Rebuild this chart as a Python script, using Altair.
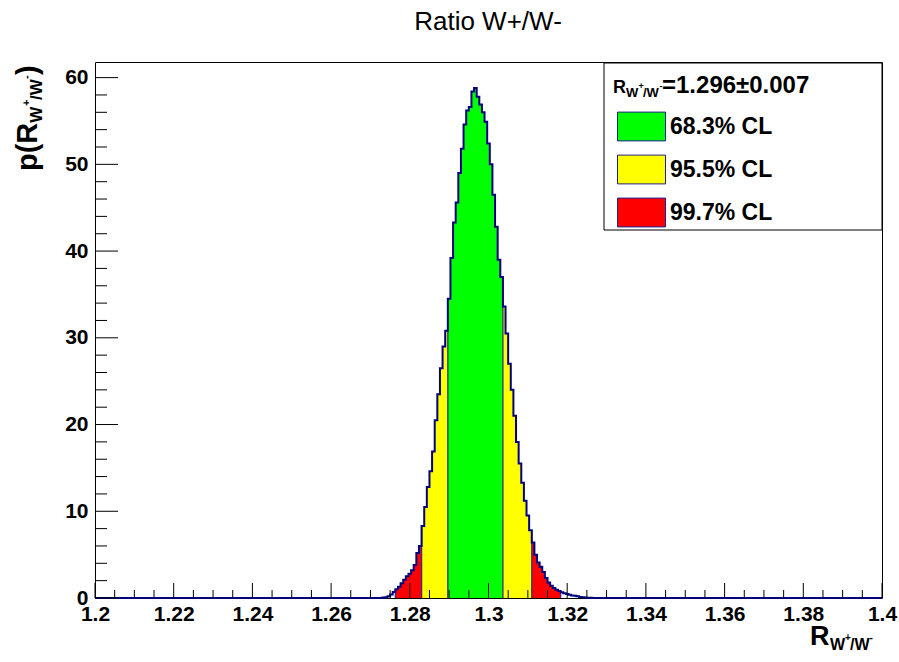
import altair as alt
import pandas as pd

# ---------------- data ----------------
x_domain = [1.2, 1.4]
y_domain = [0, 61.8]
bin_start = 1.27233
bin_width = 1 / 1500
hist_heights = [0.0, 0.05, 0.1, 0.2, 0.4, 0.7, 1.0, 1.3, 1.7, 2.1, 2.5, 2.8, 3.2, 3.8, 5.2, 6.0,
                8.3, 10.5, 12.8, 14.6, 16.9, 20.5, 23.5, 26.5, 29.0, 30.8,
                34.5, 39.2, 43.3, 45.6, 49.0, 51.8, 54.6, 56.2, 56.6, 58.4, 58.8, 57.8, 56.9, 56.0,
                54.9, 52.4, 50.0, 46.5, 42.8, 39.0, 37.0,
                33.6, 30.5, 27.0, 24.0, 21.0, 18.0, 15.5, 13.3, 11.2, 9.5, 7.8,
                6.4, 5.0, 4.1, 3.6, 3.0, 2.3, 1.8, 1.4, 1.15, 0.95, 0.8,
                0.65, 0.55, 0.45, 0.38, 0.3, 0.25, 0.2, 0.12, 0.08, 0.05, 0.03, 0.02]
cl_labels = ["68.3% CL", "95.5% CL", "99.7% CL"]
cl_colors = ["#00ff00", "#ffff00", "#ff0000"]
cl_low = [1.28967, 1.28300, 1.27633]
cl_high = [1.30367, 1.31100, 1.31833]
x_major = [1.2, 1.22, 1.24, 1.26, 1.28, 1.3, 1.32, 1.34, 1.36, 1.38, 1.4]
x_minor = [round(1.2 + 0.005 * i, 3) for i in range(41) if i % 4 != 0]
y_major = [0, 10, 20, 30, 40, 50, 60]
y_minor = [v for v in range(0, 62, 2) if v % 10 != 0]

# ---------------- tables ----------------
n = len(hist_heights)
edges = [bin_start + j * bin_width for j in range(n + 1)]


def band_of(c):
    for lab, lo, hi in zip(cl_labels, cl_low, cl_high):
        if lo <= c <= hi:
            return lab
    return None


bands = [band_of(edges[j] + bin_width / 2) for j in range(n)]

area_rows = []
seg = 0
j = 0
while j < n:
    if bands[j] is None:
        j += 1
        continue
    b = bands[j]
    k = j
    while k < n and bands[k] == b:
        area_rows.append({"x": edges[k], "h": hist_heights[k], "band": b, "seg": seg})
        k += 1
    area_rows.append({"x": edges[k], "h": hist_heights[k - 1], "band": b, "seg": seg})
    seg += 1
    j = k
area_df = pd.DataFrame(area_rows)

outline_df = pd.DataFrame({
    "x": [x_domain[0]] + edges[:-1] + [edges[-1], x_domain[1]],
    "h": [0] + hist_heights + [0, 0],
})

bounds = sorted(set(cl_low + cl_high))
brow = []
for bv in bounds:
    k = int(round((bv - bin_start) / bin_width))
    brow.append({"x": edges[k], "h": max(hist_heights[k - 1], hist_heights[k])})
bound_df = pd.DataFrame(brow)

xmaj_df = pd.DataFrame({"v": x_major})
xmin_df = pd.DataFrame({"v": x_minor})
ymaj_df = pd.DataFrame({"v": y_major})
ymin_df = pd.DataFrame({"v": y_minor})
one = pd.DataFrame({"k": [0]})

# ---------------- styling ----------------
W, H = 787, 536
L0, T0 = 95, 62
FONT = "Liberation Sans"
NAVY = "#000080"

xscale = alt.Scale(domain=x_domain, nice=False, zero=False)
yscale = alt.Scale(domain=y_domain, nice=False)
xaxis = alt.Axis(values=x_major, format="~g", labelFont=FONT, labelFontWeight="bold",
                 labelFontSize=21, labelColor="black", ticks=False, domain=False, grid=False,
                 labelFlush=False, labelOverlap=False, labelBound=False, labelPadding=5, title=None)
yaxis = alt.Axis(values=y_major, labelFont=FONT, labelFontWeight="bold", labelFontSize=21,
                 labelColor="black", ticks=False, domain=False, grid=False, labelPadding=7,
                 labelOverlap=False, title=None)


def X(f):
    return alt.X(f, scale=xscale, axis=xaxis, title=None)


def Y(f):
    return alt.Y(f, scale=yscale, axis=yaxis, title=None, stack=None)


def txt(s, x, y, size, weight="bold", angle=0, align="left"):
    return alt.Chart(one).mark_text(text=s, font=FONT, fontSize=size, fontWeight=weight,
                                    angle=angle, align=align, baseline="alphabetic",
                                    color="black").encode(x=alt.value(x - L0), y=alt.value(y - T0))


fills = alt.Chart(area_df).mark_area(interpolate="step-after", opacity=1).encode(
    x=X("x:Q"), y=Y("h:Q"),
    color=alt.Color("band:N", scale=alt.Scale(domain=cl_labels, range=cl_colors),
                    legend=alt.Legend(orient="none", legendX=522, legendY=40, title=None,
                                      symbolType="M-1,-0.6H1V0.6H-1Z", symbolSize=2304,
                                      symbolStrokeColor="#202090", symbolStrokeWidth=1,
                                      symbolOpacity=1, labelFont=FONT, labelFontWeight="bold",
                                      labelFontSize=23, labelColor="black", labelOffset=4,
                                      rowPadding=2, padding=0, zindex=1)),
    detail="seg:N",
)

bound_rules = alt.Chart(bound_df).mark_rule(color="#303088", strokeWidth=1.3).encode(
    x=X("x:Q"), y=Y("h:Q"), y2=alt.datum(0))

outline = alt.Chart(outline_df).mark_line(interpolate="step-after", color=NAVY,
                                          strokeWidth=2).encode(x=X("x:Q"), y=Y("h:Q"))

xmaj = alt.Chart(xmaj_df).mark_rule(color="black", strokeWidth=1).encode(
    x=X("v:Q"), y=alt.value(H), y2=alt.value(H - 15))
xmin = alt.Chart(xmin_df).mark_rule(color="black", strokeWidth=1).encode(
    x=X("v:Q"), y=alt.value(H), y2=alt.value(H - 8))
ymaj = alt.Chart(ymaj_df).mark_rule(color="black", strokeWidth=1).encode(
    y=Y("v:Q"), x=alt.value(0), x2=alt.value(23))
ymin = alt.Chart(ymin_df).mark_rule(color="black", strokeWidth=1).encode(
    y=Y("v:Q"), x=alt.value(0), x2=alt.value(12))

legend_box = alt.Chart(one).mark_rect(fill="white", stroke="black", strokeWidth=1).encode(
    x=alt.value(604 - L0), x2=alt.value(W), y=alt.value(1), y2=alt.value(168))

texts = [
    txt("Ratio W+/W-", 488, 30, 26, weight="normal", align="center"),
    # legend header
    txt("R", 613, 93, 18),
    txt("W", 626, 97, 13),
    txt("+", 638.5, 89, 9),
    txt("/W", 643, 97, 13),
    txt("-", 659.5, 89, 9),
    txt("=1.296\u00b10.007", 662, 93, 24),
    # x title
    txt("R", 810, 645, 27),
    txt("W", 830, 650, 16),
    txt("+", 845, 641, 10),
    txt("/W", 850, 650, 16),
    txt("-", 869.5, 641, 10),
    # y title
    txt("p(R", 37, 171, 29, angle=270),
    txt("W", 42, 122.7, 17, angle=270),
    txt("+", 30, 106, 11, angle=270),
    txt("/W", 42, 100, 17, angle=270),
    txt("-", 30, 79, 11, angle=270),
    txt(")", 37, 75, 29, angle=270),
]

chart = alt.layer(fills, bound_rules, outline, xmaj, xmin, ymaj, ymin, legend_box, *texts).properties(
    width=W, height=H,
    autosize=alt.AutoSizeParams(type="none"),
    padding={"left": L0, "top": T0, "right": 899 - L0 - W, "bottom": 662 - T0 - H},
    background="white",
).configure_view(stroke="black", strokeWidth=1)

chart.save("out.html", embed_options={"renderer": "svg", "actions": False})
